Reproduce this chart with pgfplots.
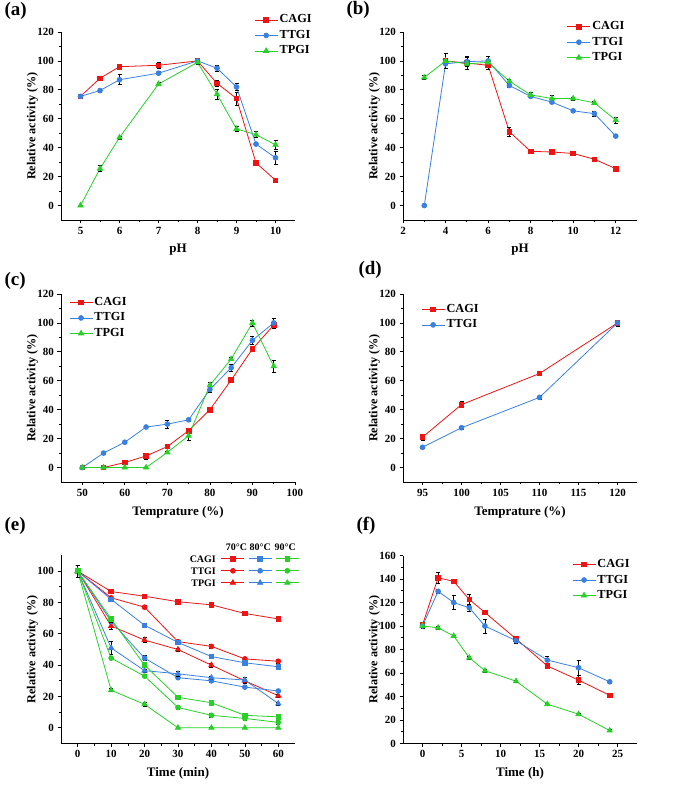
\documentclass[border=0pt]{standalone}
\usepackage{pgfplots}
\pgfplotsset{compat=1.18}
\usepackage{fontspec}
\setmainfont{Liberation Serif}
\definecolor{cred}{RGB}{238,20,20}
\definecolor{cblue}{RGB}{58,128,225}
\definecolor{cgreen}{RGB}{40,208,40}
\pgfplotsset{
  panel/.style={
    scale only axis, width=234pt, height=188pt, anchor=south west,
    axis x line*=bottom, axis y line*=left,
    axis line style={line width=0.8pt},
    tick align=outside, major tick length=3.5pt, minor tick length=2pt,
    minor tick num=1,
    tick style={black, line width=0.7pt},
    tick label style={font=\fontsize{11}{13}\selectfont\bfseries},
    /pgf/number format/assume math mode=true,
    ylabel={Relative activity (\%)},
    every axis y label/.style={at={(axis description cs:-0.122,0.5)}, rotate=90, anchor=center, font=\fontsize{12.2}{14}\selectfont\bfseries},
    every axis x label/.style={at={(axis description cs:0.5,0)}, yshift=-30pt, anchor=center, font=\fontsize{13}{15}\selectfont\bfseries},
    legend cell align=left,
    legend style={draw=none, fill=none, inner sep=0pt, row sep=0.5pt, anchor=north west,
      font=\fontsize{12.3}{14}\selectfont\bfseries,
      nodes={inner sep=1.5pt, text height=9pt, text depth=3pt}},
    legend image code/.code={\draw[mark repeat=2, mark phase=2] plot coordinates {(0pt,0pt) (11.5pt,0pt) (23pt,0pt)};},
  },
  cag/.style={color=cred, line width=0.8pt, mark=square*, mark size=2.3pt, mark options={solid}},
  ttg/.style={color=cblue, line width=0.8pt, mark=*, mark size=2.4pt, mark options={solid}},
  tpg/.style={color=cgreen, line width=0.8pt, mark=triangle*, mark size=3pt, mark options={solid}},
  eb/.style={error bars/.cd, y dir=both, y explicit,
    error bar style={black, line width=0.6pt},
    error mark options={black, rotate=90, mark size=2pt, line width=0.6pt}, /pgfplots/.cd},
}
\begin{document}
\begin{tikzpicture}[x=1pt,y=1pt]
\useasboundingbox (0,0) rectangle (685,787);
\tikzset{plab/.style={anchor=west, font=\fontsize{19}{20}\selectfont\bfseries}}
\node[plab] at (1,776) {(a)};
\node[plab] at (343,777) {(b)};
\node[plab] at (1,506) {(c)};
\node[plab] at (355,517) {(d)};
\node[plab] at (1,261) {(e)};
\node[plab] at (353,261) {(f)};

% (a)
\begin{axis}[panel, at={(61pt,567pt)}, xmin=4.5, xmax=10.5, ymin=-10, ymax=120,
  xtick={5,6,...,10}, ytick={0,20,...,120}, xlabel={pH},
  legend style={at={(axis description cs:0.825,1.105)}}]
\addplot[cag, eb] table[y error index=2, row sep=\\] {5 75.5 1\\ 5.5 88 1\\ 6 96 1\\ 7 97 2\\ 8 100 1.5\\ 8.5 84.5 2\\ 9 74 4.5\\ 9.5 29.5 1\\ 10 17.5 1\\};
\addplot[ttg, eb] table[y error index=2, row sep=\\] {5 75.5 1\\ 5.5 79.5 1\\ 6 87 3.5\\ 7 91.5 1\\ 8 100 2\\ 8.5 95 2\\ 9 82 2.5\\ 9.5 42.5 1\\ 10 33 4.5\\};
\addplot[tpg, eb] table[y error index=2, row sep=\\] {5 0 0.5\\ 5.5 25.5 2\\ 6 47 1\\ 7 84 1\\ 8 99 1.5\\ 8.5 77 3.5\\ 9 53 1.5\\ 9.5 49 2\\ 10 42 3\\};
\legend{CAGI,TTGI,TPGI}
\end{axis}

% (b)
\begin{axis}[panel, at={(403pt,567pt)}, xmin=2, xmax=13, ymin=-10, ymax=120,
  xtick={2,4,...,12}, ytick={0,20,...,120}, xlabel={pH},
  legend style={at={(axis description cs:0.70,1.069)}}]
\addplot[cag, eb] table[y error index=2, row sep=\\] {4 100 5\\ 5 98.5 4\\ 6 97 2.5\\ 7 51 3\\ 8 37.5 1\\ 9 37 1\\ 10 36 1\\ 11 32 1\\ 12 25.5 1\\};
\addplot[ttg, eb] table[y error index=2, row sep=\\] {3 0 0.5\\ 4 98 3\\ 5 99.5 3.5\\ 6 100 3.5\\ 7 83 1\\ 8 75.5 1\\ 9 71.5 1\\ 10 65.5 1\\ 11 63.5 2\\ 12 48 0.8\\};
\addplot[tpg, eb] table[y error index=2, row sep=\\] {3 88.5 1.5\\ 4 100 1\\ 5 98 2\\ 6 99 1.5\\ 7 86 1.5\\ 8 76.5 2\\ 9 74 2\\ 10 74 1\\ 11 71 1\\ 12 59 2\\};
\legend{CAGI,TTGI,TPGI}
\end{axis}

% (c)
\begin{axis}[panel, at={(61pt,305pt)}, xmin=45, xmax=100, ymin=-10, ymax=120,
  xtick={50,60,...,100}, ytick={0,20,...,120}, xlabel={Temprature (\%)},
  legend style={at={(axis description cs:0.034,0.996)}}]
\addplot[cag, eb] table[y error index=2, row sep=\\] {50 0 0.5\\ 55 0 0.5\\ 60 3.5 1\\ 65 8 2\\ 70 14.5 1\\ 75 25.5 1\\ 80 40 1\\ 85 60.5 1\\ 90 82 1\\ 95 98.5 2\\};
\addplot[ttg, eb] table[y error index=2, row sep=\\] {50 0 0.5\\ 55 10 0.8\\ 60 17.5 1\\ 65 28 1\\ 70 30 3\\ 75 33 1\\ 80 54 2\\ 85 69 2.5\\ 90 88 3\\ 95 100 3\\};
\addplot[tpg, eb] table[y error index=2, row sep=\\] {50 0 0.5\\ 55 0 0.5\\ 60 0 0.5\\ 65 0 0.5\\ 70 10.5 1\\ 75 22 3.5\\ 80 57 2\\ 85 75 1\\ 90 100 2\\ 95 70 4\\};
\legend{CAGI,TTGI,TPGI}
\end{axis}

% (d)
\begin{axis}[panel, at={(403pt,305pt)}, xmin=92.5, xmax=122.5, ymin=-10, ymax=120,
  xtick={95,100,...,120}, ytick={0,20,...,120}, xlabel={Temprature (\%)},
  legend style={at={(axis description cs:0.077,0.959)}}]
\addplot[cag, eb] table[y error index=2, row sep=\\] {95 21 2\\ 100 43.5 2\\ 110 65 1\\ 120 100 2\\};
\addplot[ttg, eb] table[y error index=2, row sep=\\] {95 14 1\\ 100 27.5 1\\ 110 48.5 1.5\\ 120 100 2\\};
\legend{CAGI,TTGI}
\end{axis}

% (e)
\begin{axis}[panel, at={(61pt,43.5pt)}, xmin=-5, xmax=65, ymin=-10, ymax=110,
  xtick={0,10,...,60}, ytick={0,20,...,100}, xlabel={Time (min)},
  clip mode=individual,
  legend columns=3,
  legend style={at={(axis description cs:0.683,1.01)}, column sep=1.2pt, row sep=2pt,
    font=\fontsize{10}{11}\selectfont\bfseries,
    nodes={inner sep=0pt, text height=7pt, text depth=3pt}}]
\addplot[forget plot, cag, color=cred, eb] table[y error index=2, row sep=\\] {0 100 4\\ 10 87 1\\ 20 84 1\\ 30 80.5 1\\ 40 78.5 1\\ 50 73 1\\ 60 69.5 1.5\\};
\addplot[forget plot, ttg, color=cred, eb] table[y error index=2, row sep=\\] {0 100 4\\ 10 83 1\\ 20 77 1\\ 30 55 1\\ 40 52 1\\ 50 44 1\\ 60 42.5 1\\};
\addplot[forget plot, tpg, color=cred, eb] table[y error index=2, row sep=\\] {0 100 4\\ 10 65 2\\ 20 56 1.5\\ 30 50 1\\ 40 40 1.5\\ 50 30 1\\ 60 20.5 1\\};
\addplot[forget plot, cag, color=cblue, eb] table[y error index=2, row sep=\\] {0 100 4\\ 10 82 1\\ 20 65.5 1.5\\ 30 54.5 1.5\\ 40 45.5 1\\ 50 41.5 1\\ 60 39 1\\};
\addplot[forget plot, ttg, color=cblue, eb] table[y error index=2, row sep=\\] {0 100 4\\ 10 68 1\\ 20 44.5 1.5\\ 30 32 1\\ 40 30 1\\ 50 26 1\\ 60 23.5 1\\};
\addplot[forget plot, tpg, color=cblue, eb] table[y error index=2, row sep=\\] {0 100 4\\ 10 51 4\\ 20 36.5 1\\ 30 34.5 1.5\\ 40 32 1\\ 50 30.5 2\\ 60 15.5 1\\};
\addplot[forget plot, cag, color=cgreen, eb] table[y error index=2, row sep=\\] {0 100 4\\ 10 69.5 2\\ 20 40 1.5\\ 30 19.5 1\\ 40 16 1\\ 50 8 1\\ 60 7 1\\};
\addplot[forget plot, ttg, color=cgreen, eb] table[y error index=2, row sep=\\] {0 100 4\\ 10 44.5 1\\ 20 33 1\\ 30 13 1\\ 40 8 1\\ 50 6 1\\ 60 3.5 1\\};
\addplot[forget plot, tpg, color=cgreen, eb] table[y error index=2, row sep=\\] {0 100 4\\ 10 24 1\\ 20 15 1\\ 30 0 0.5\\ 40 0 0.5\\ 50 0 0.5\\ 60 0 0.5\\};
\addlegendimage{cag, color=cred}\addlegendentry{\mbox{}}
\addlegendimage{cag, color=cblue}\addlegendentry{\mbox{}}
\addlegendimage{cag, color=cgreen}\addlegendentry{\mbox{}}
\addlegendimage{ttg, color=cred}\addlegendentry{\mbox{}}
\addlegendimage{ttg, color=cblue}\addlegendentry{\mbox{}}
\addlegendimage{ttg, color=cgreen}\addlegendentry{\mbox{}}
\addlegendimage{tpg, color=cred}\addlegendentry{\mbox{}}
\addlegendimage{tpg, color=cblue}\addlegendentry{\mbox{}}
\addlegendimage{tpg, color=cgreen}\addlegendentry{\mbox{}}
\tikzset{elab/.style={font=\fontsize{10}{11}\selectfont\bfseries}}
\node[elab, anchor=east] at (rel axis cs:0.677,0.981) {CAGI};
\node[elab, anchor=east] at (rel axis cs:0.677,0.917) {TTGI};
\node[elab, anchor=east] at (rel axis cs:0.677,0.853) {TPGI};
\node[elab] at (rel axis cs:0.750,1.043) {70°C};
\node[elab] at (rel axis cs:0.851,1.043) {80°C};
\node[elab] at (rel axis cs:0.958,1.043) {90°C};
\end{axis}

% (f)
\begin{axis}[panel, at={(403pt,43.5pt)}, xmin=-2.5, xmax=27.5, ymin=0, ymax=160,
  xtick={0,5,...,25}, ytick={0,20,...,160}, xlabel={Time (h)},
  legend style={at={(axis description cs:0.722,0.993)}}]
\addplot[cag, eb] table[y error index=2, row sep=\\] {0 101 2\\ 2 141 4.5\\ 4 138 1.5\\ 6 122.5 4.5\\ 8 111.5 1\\ 12 89 2\\ 16 66 2\\ 20 54 4\\ 24 41 2\\};
\addplot[ttg, eb] table[y error index=2, row sep=\\] {0 100 2\\ 2 129.5 2\\ 4 120 6\\ 6 115.5 3\\ 8 100 6\\ 12 87.5 2\\ 16 71 3\\ 20 64.5 6.5\\ 24 52.5 1\\};
\addplot[tpg, eb] table[y error index=2, row sep=\\] {0 100 1\\ 2 98.5 1\\ 4 91.5 1\\ 6 73 1\\ 8 62 1\\ 12 53 1\\ 16 33.5 1\\ 20 25 1\\ 24 11 1\\};
\legend{CAGI,TTGI,TPGI}
\end{axis}
\end{tikzpicture}
\end{document}
